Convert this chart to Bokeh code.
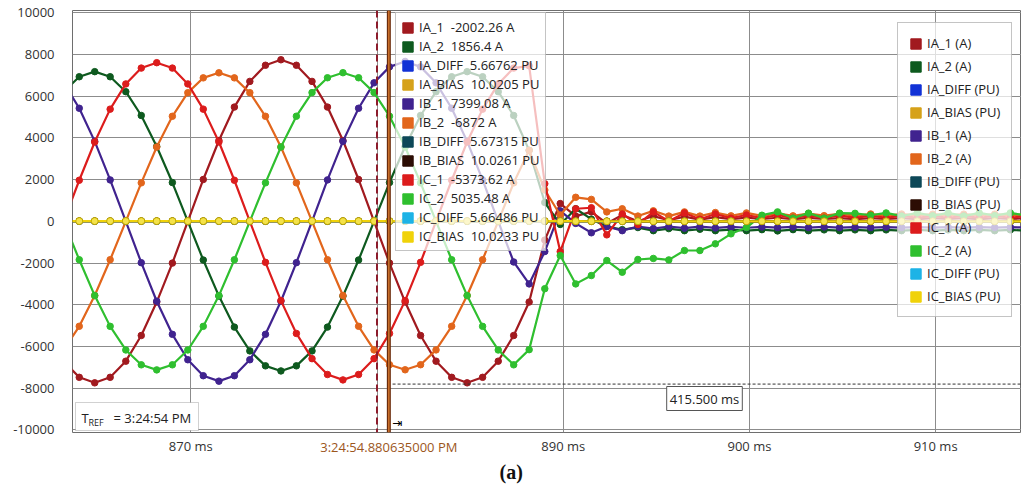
from bokeh.plotting import figure
from bokeh.models import (Range1d, FixedTicker, Span, Legend, LegendItem, Label, Title,
                          LinearAxis, BoxAnnotation, ColumnDataSource)
from bokeh.embed import file_html
from bokeh.resources import INLINE

# ---------------- data ----------------
T_MS = [863.17, 864.01, 864.84, 865.67, 866.51, 867.34, 868.17, 869.01, 869.84, 870.67,
        871.51, 872.34, 873.17, 874.01, 874.84, 875.67, 876.51, 877.34, 878.17, 879.01,
        879.84, 880.67, 881.51, 882.34, 883.17, 884.01, 884.84, 885.67, 886.51, 887.34,
        888.17, 889.01, 889.84, 890.67, 891.51, 892.34, 893.17, 894.01, 894.84, 895.67,
        896.51, 897.34, 898.17, 899.01, 899.84, 900.67, 901.51, 902.34, 903.17, 904.01,
        904.84, 905.67, 906.51, 907.34, 908.17, 909.01, 909.84, 910.67, 911.51, 912.34,
        913.17, 914.01, 914.84]

IA_1 = [-6703, -7476, -7740, -7476, -6703, -5473, -3870, -2003, 0, 2003,
        3870, 5473, 6703, 7476, 7740, 7476, 6703, 5473, 3870, 2003,
        0, -2002, -3870, -5473, -6703, -7476, -7740, -7476, -6703, -5473,
        -3870, -900, 850, 250, 450, -100, 300, 0, 250, 50,
        220, 80, 200, 100, 180, 110, 170, 100, 160, 110,
        150, 100, 150, 110, 150, 100, 150, 110, 150, 100,
        150, 110, 150]
IA_2 = [6209, 6926, 7170, 6926, 6209, 5070, 3585, 1856, 0, -1856,
        -3585, -5070, -6209, -6926, -7170, -6926, -6209, -5070, -3585, -1856,
        0, 1856, 3585, 5070, 6209, 6926, 7170, 6926, 6209, 5070,
        3400, 900, -150, 600, 100, -250, -400, -300, -450, -350,
        -450, -380, -450, -400, -450, -400, -460, -400, -450, -410,
        -450, -410, -450, -410, -450, -410, -450, -410, -450, -410,
        -450, -410, -450]
IB_1 = [6634, 5416, 3830, 1983, 0, -1983, -3830, -5416, -6634, -7399,
        -7660, -7399, -6634, -5416, -3830, -1983, 0, 1983, 3830, 5416,
        6634, 7399, 7660, 7399, 6634, 5416, 3830, 1983, 0, -1950,
        -3000, -1450, 500, -100, -550, -250, -450, -250, -350, -250,
        -330, -260, -320, -270, -310, -270, -300, -270, -300, -270,
        -300, -280, -300, -280, -300, -280, -300, -280, -300, -280,
        -300, -280, -300]
IB_2 = [-6162, -5031, -3558, -1841, 0, 1841, 3558, 5031, 6162, 6872,
        7115, 6872, 6162, 5031, 3558, 1841, 0, -1841, -3558, -5031,
        -6162, -6872, -7115, -6872, -6162, -5031, -3558, -1841, 0, 1841,
        3400, 1500, 300, 1150, 1050, 450, 600, 250, 500, 250,
        450, 250, 420, 260, 400, 260, 380, 260, 370, 270,
        360, 270, 350, 270, 350, 280, 340, 280, 340, 280,
        340, 280, 340]
IC_1 = [0, 1967, 3800, 5374, 6582, 7341, 7600, 7341, 6582, 5374,
        3800, 1967, 0, -1967, -3800, -5374, -6582, -7341, -7600, -7341,
        -6582, -5374, -3800, -1967, 0, 1967, 3800, 5374, 6582, 7341,
        7450, 1800, -1450, 600, 650, -650, 350, -150, 450, 0,
        400, 100, 350, 150, 300, 150, 300, 150, 280, 150,
        280, 160, 270, 160, 270, 160, 260, 170, 260, 170,
        260, 170, 260]
IC_2 = [0, -1843, -3560, -5035, -6166, -6877, -7120, -6877, -6166, -5035,
        -3560, -1843, 0, 1843, 3560, 5035, 6166, 6877, 7120, 6877,
        6166, 5035, 3560, 1843, 0, -1843, -3560, -5035, -6166, -6877,
        -6150, -3230, -1640, -3000, -2600, -1880, -2440, -1830, -1780, -1850,
        -1400, -1400, -1080, -600, -300, 290, 450, 150, 390, 150,
        390, 380, 290, 400, 250, 400, 260, 400, 250, 400,
        270, 400, 280]
IA_DIFF = [5.66, 5.67, 5.67, 5.66, 5.67, 5.67, 5.66, 5.67, 5.67, 5.66,
           5.67, 5.67, 5.66, 5.67, 5.67, 5.66, 5.67, 5.67, 5.66, 5.67,
           5.67, 5.668, 5.67, 5.66, 5.67, 5.67, 5.66, 5.67, 5.67, 5.66,
           5.67, 5.1, 3.9, 2.4, 1.3, 0.8, 0.5, 0.4, 0.3, 0.2,
           0.2, 0.2, 0.1, 0.1, 0.1, 0.1, 0.1, 0.1, 0.1, 0.1,
           0.1, 0.1, 0.1, 0.1, 0.1, 0.1, 0.1, 0.1, 0.1, 0.1,
           0.1, 0.1, 0.1]
IB_DIFF = [5.67, 5.68, 5.67, 5.67, 5.68, 5.67, 5.67, 5.68, 5.67, 5.67,
           5.68, 5.67, 5.67, 5.68, 5.67, 5.67, 5.68, 5.67, 5.67, 5.68,
           5.67, 5.673, 5.67, 5.68, 5.67, 5.67, 5.68, 5.67, 5.67, 5.68,
           5.67, 5.2, 4.0, 2.5, 1.4, 0.8, 0.5, 0.4, 0.3, 0.2,
           0.2, 0.2, 0.1, 0.1, 0.1, 0.1, 0.1, 0.1, 0.1, 0.1,
           0.1, 0.1, 0.1, 0.1, 0.1, 0.1, 0.1, 0.1, 0.1, 0.1,
           0.1, 0.1, 0.1]
IC_DIFF = [5.66, 5.67, 5.66, 5.66, 5.67, 5.66, 5.66, 5.67, 5.66, 5.66,
           5.67, 5.66, 5.66, 5.67, 5.66, 5.66, 5.67, 5.66, 5.66, 5.67,
           5.66, 5.665, 5.66, 5.67, 5.66, 5.66, 5.67, 5.66, 5.66, 5.67,
           5.66, 5.0, 3.8, 2.3, 1.2, 0.7, 0.5, 0.4, 0.3, 0.2,
           0.2, 0.2, 0.1, 0.1, 0.1, 0.1, 0.1, 0.1, 0.1, 0.1,
           0.1, 0.1, 0.1, 0.1, 0.1, 0.1, 0.1, 0.1, 0.1, 0.1,
           0.1, 0.1, 0.1]
IA_BIAS = [10.02, 10.02, 10.03, 10.02, 10.02, 10.03, 10.02, 10.02, 10.03, 10.02,
           10.02, 10.03, 10.02, 10.02, 10.03, 10.02, 10.02, 10.03, 10.02, 10.02,
           10.03, 10.021, 10.02, 10.03, 10.02, 10.02, 10.03, 10.02, 10.02, 10.03,
           10.02, 9.1, 6.8, 4.2, 2.3, 1.4, 0.9, 0.7, 0.5, 0.4,
           0.3, 0.3, 0.3, 0.3, 0.3, 0.3, 0.3, 0.3, 0.3, 0.3,
           0.3, 0.3, 0.3, 0.3, 0.3, 0.3, 0.3, 0.3, 0.3, 0.3,
           0.3, 0.3, 0.3]
IB_BIAS = [10.03, 10.02, 10.03, 10.03, 10.02, 10.03, 10.03, 10.02, 10.03, 10.03,
           10.02, 10.03, 10.03, 10.02, 10.03, 10.03, 10.02, 10.03, 10.03, 10.02,
           10.03, 10.026, 10.03, 10.02, 10.03, 10.03, 10.02, 10.03, 10.03, 10.02,
           10.03, 9.2, 6.9, 4.3, 2.4, 1.4, 0.9, 0.7, 0.5, 0.4,
           0.3, 0.3, 0.3, 0.3, 0.3, 0.3, 0.3, 0.3, 0.3, 0.3,
           0.3, 0.3, 0.3, 0.3, 0.3, 0.3, 0.3, 0.3, 0.3, 0.3,
           0.3, 0.3, 0.3]
IC_BIAS = [10.02, 10.03, 10.02, 10.02, 10.03, 10.02, 10.02, 10.03, 10.02, 10.02,
           10.03, 10.02, 10.02, 10.03, 10.02, 10.02, 10.03, 10.02, 10.02, 10.03,
           10.02, 10.023, 10.02, 10.03, 10.02, 10.02, 10.03, 10.02, 10.02, 10.03,
           10.02, 9.0, 6.7, 4.1, 2.2, 1.3, 0.9, 0.7, 0.5, 0.4,
           0.3, 0.3, 0.3, 0.3, 0.3, 0.3, 0.3, 0.3, 0.3, 0.3,
           0.3, 0.3, 0.3, 0.3, 0.3, 0.3, 0.3, 0.3, 0.3, 0.3,
           0.3, 0.3, 0.3]

NAMES = ["IA_1", "IA_2", "IA_DIFF", "IA_BIAS", "IB_1", "IB_2", "IB_DIFF", "IB_BIAS",
         "IC_1", "IC_2", "IC_DIFF", "IC_BIAS"]
UNITS = ["A", "A", "PU", "PU", "A", "A", "PU", "PU", "A", "A", "PU", "PU"]
CURSOR_VALUES = ["-2002.26", "1856.4", "5.66762", "10.0205", "7399.08", "-6872",
                 "5.67315", "10.0261", "-5373.62", "5035.48", "5.66486", "10.0233"]
SERIES = {"IA_1": IA_1, "IA_2": IA_2, "IA_DIFF": IA_DIFF, "IA_BIAS": IA_BIAS,
          "IB_1": IB_1, "IB_2": IB_2, "IB_DIFF": IB_DIFF, "IB_BIAS": IB_BIAS,
          "IC_1": IC_1, "IC_2": IC_2, "IC_DIFF": IC_DIFF, "IC_BIAS": IC_BIAS}
COLORS = {"IA_1": "#a11a1f", "IA_2": "#0e5a1f", "IA_DIFF": "#1232d6", "IA_BIAS": "#d6a21a",
          "IB_1": "#40238f", "IB_2": "#e2661c", "IB_DIFF": "#0d4858", "IB_BIAS": "#2c0d04",
          "IC_1": "#dc1c1c", "IC_2": "#2fbf2f", "IC_DIFF": "#1db3e6", "IC_BIAS": "#f0d20a"}
DRAW_ORDER = ["IA_1", "IA_2", "IB_1", "IB_2", "IC_1", "IC_2",
              "IA_DIFF", "IB_DIFF", "IC_DIFF", "IA_BIAS", "IB_BIAS", "IC_BIAS"]

X_TICKS = [870, 890, 900, 910]
X_GRID = [870, 880, 890, 900, 910]
Y_TICKS = [-10000, -8000, -6000, -4000, -2000, 0, 2000, 4000, 6000, 8000, 10000]
REF_T = 880.0
CURSOR_T = 880.635
CURSOR_TEXT = "3:24:54.880635000 PM"
DELTA_LEVEL = -7800
DELTA_TEXT = "415.500 ms"
TREF_TEXT = "= 3:24:54 PM"

FONT = "Open Sans"
NAN = float("nan")

# ---------------- figure ----------------
p = figure(width=1021, height=488,
           x_range=Range1d(863.647, 914.61), y_range=Range1d(-10120, 10100),
           output_backend="svg", toolbar_location=None,
           min_border_left=72, min_border_right=0, min_border_top=10, min_border_bottom=56,
           background_fill_color="white", border_fill_color="white")
p.outline_line_color = "#6e6e6e"

p.xaxis.ticker = FixedTicker(ticks=X_TICKS)
p.xaxis.major_label_overrides = {v: f"{v} ms" for v in X_TICKS}
p.yaxis.ticker = FixedTicker(ticks=Y_TICKS)
p.yaxis.major_label_overrides = {v: str(v) for v in Y_TICKS}


def style_axis(ax):
    ax.axis_line_color = None
    ax.major_tick_line_color = None
    ax.minor_tick_line_color = None
    ax.major_tick_in = 0
    ax.major_tick_out = 0
    ax.major_label_text_font = FONT
    ax.major_label_text_font_size = "13px"
    ax.major_label_text_color = "#333333"


style_axis(p.xaxis[0])
style_axis(p.yaxis[0])
p.xaxis.major_label_standoff = 4
p.yaxis.major_label_standoff = 18

# cursor-time label drawn as a second bottom axis overlapping the first one
cursor_axis = LinearAxis(ticker=FixedTicker(ticks=[CURSOR_T]),
                         major_label_overrides={CURSOR_T: CURSOR_TEXT})
style_axis(cursor_axis)
cursor_axis.major_label_text_color = "#9c561c"
cursor_axis.major_label_standoff = -20
p.add_layout(cursor_axis, "below")

p.add_layout(Title(text="(a)", align="left", offset=427, standoff=1, text_font="Liberation Serif",
                   text_font_size="20px", text_font_style="bold", text_color="#111111"),
             "below")

p.xgrid.ticker = FixedTicker(ticks=X_GRID)
p.ygrid.ticker = FixedTicker(ticks=Y_TICKS)
p.grid.grid_line_color = "#8c8c8c"
p.grid.grid_line_width = 1

src = ColumnDataSource(dict(t=T_MS, **SERIES))
for name in DRAW_ORDER:
    c = COLORS[name]
    p.line("t", name, source=src, line_color=c, line_width=2.2)
    if name == "IC_BIAS":
        p.scatter("t", name, source=src, size=7, fill_color="#f4e24a", line_color="#c4ac00", line_width=1)
    else:
        p.scatter("t", name, source=src, size=6.5, fill_color=c, line_color=c)

# cursor lines
p.add_layout(Span(location=REF_T, dimension="height", line_color="#8c1c2c",
                  line_width=2, line_dash="7 4"))
p.add_layout(Span(location=CURSOR_T, dimension="height", line_color="#6b2a0a", line_width=4))
p.add_layout(Span(location=CURSOR_T, dimension="height", line_color="#d0762e", line_width=1.5))
p.segment(x0=CURSOR_T + 0.2, y0=DELTA_LEVEL, x1=914.61, y1=DELTA_LEVEL,
          line_color="#333333", line_width=1, line_dash="3 2")

# legend swatches (no visible marks: NaN coordinates)
swatch = {}
for name in NAMES:
    swatch[name] = p.quad(left=[NAN], right=[NAN], top=[NAN], bottom=[NAN],
                          fill_color=COLORS[name], line_color=COLORS[name])

mid_items = [LegendItem(label=f"{n}  {v} {u}", renderers=[swatch[n]])
             for n, v, u in zip(NAMES, CURSOR_VALUES, UNITS)]
right_items = [LegendItem(label=f"{n} ({u})", renderers=[swatch[n]])
               for n, u in zip(NAMES, UNITS)]

common = dict(orientation="vertical", glyph_width=13, glyph_height=13, label_height=18,
              label_standoff=5, label_text_font=FONT, label_text_font_size="13px",
              label_text_color="#222222", background_fill_color="white",
              background_fill_alpha=0.72, border_line_color="#8a8a8a", margin=0)
p.add_layout(Legend(items=mid_items, location=(323, 181), spacing=1, padding=5, **common))
p.add_layout(Legend(items=right_items, location=(825, 115), spacing=5, padding=11, **common))

# T_REF box
p.add_layout(BoxAnnotation(left=3, right=126, bottom=2, top=30,
                           left_units="screen", right_units="screen",
                           bottom_units="screen", top_units="screen",
                           fill_color="white", fill_alpha=1, line_color="#666666", line_width=1))
p.add_layout(Label(x=9, y=15, x_units="screen", y_units="screen", text="T",
                   text_font=FONT, text_font_size="13px", text_color="#222222",
                   text_baseline="middle"))
p.add_layout(Label(x=16, y=10, x_units="screen", y_units="screen", text="REF",
                   text_font=FONT, text_font_size="9px", text_color="#222222",
                   text_baseline="middle"))
p.add_layout(Label(x=41, y=15, x_units="screen", y_units="screen", text=TREF_TEXT,
                   text_font=FONT, text_font_size="13px", text_color="#222222",
                   text_baseline="middle"))

# delta label
p.add_layout(Label(x=632, y=34, x_units="screen", y_units="screen", text=DELTA_TEXT,
                   text_font=FONT, text_font_size="13px", text_color="#222222",
                   text_align="center", text_baseline="middle",
                   background_fill_color="white", border_line_color="#555555", padding=3))

# small arrow marker at cursor foot
p.add_layout(Label(x=CURSOR_T + 0.2, y=-9650, text="⇥", text_font="DejaVu Sans",
                   text_font_size="12px", text_color="#000000", text_baseline="middle"))

open("out.html", "w").write(file_html(p, INLINE))
